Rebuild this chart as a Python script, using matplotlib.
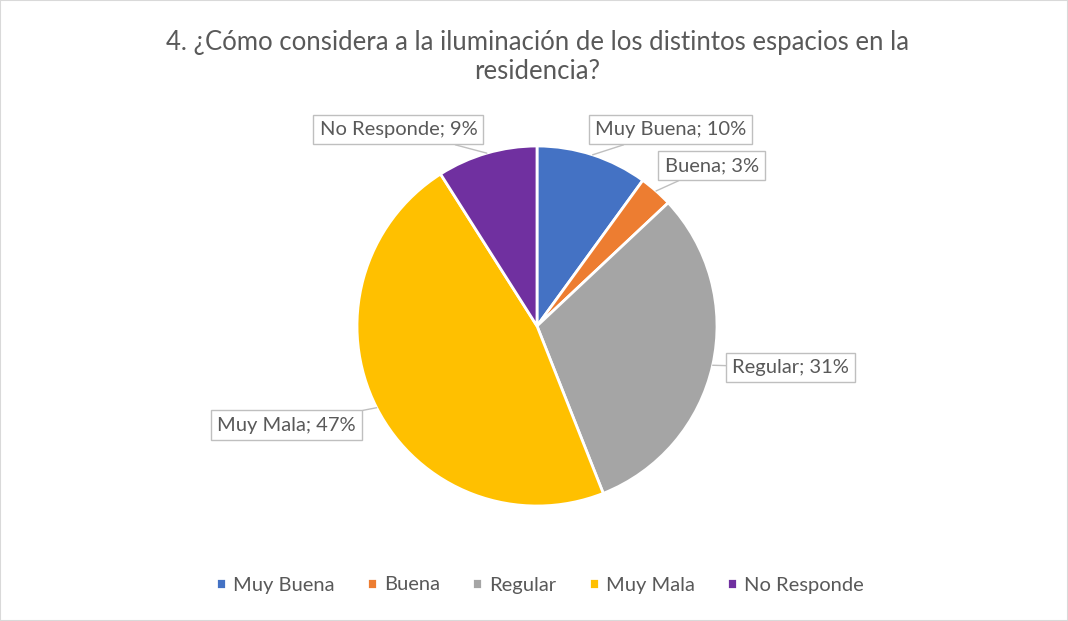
import numpy as np
import matplotlib.pyplot as plt
from matplotlib.patches import Rectangle

plt.rcParams['font.family'] = ['Lato', 'DejaVu Sans']

categories = ['Muy Buena', 'Buena', 'Regular', 'Muy Mala', 'No Responde']
values = [10, 3, 31, 47, 9]
colors = ['#4472C4', '#ED7D31', '#A5A5A5', '#FFC000', '#7030A0']
title = '4. ¿Cómo considera a la iluminación de los distintos espacios en la\nresidencia?'

# label box centres in data units (pie radius = 1)
label_pos = [(0.74, 1.09), (0.97, 0.89), (1.41, -0.23), (-1.39, -0.55), (-0.77, 1.09)]

text_color = '#595959'

fig = plt.figure(figsize=(10.68, 6.21), dpi=100)
fig.patches.append(Rectangle((0, 0), 1, 1, transform=fig.transFigure, fill=False,
                             edgecolor='#D9D9D9', linewidth=1.5))

cx, cy, r = 537, 326, 180
ax = fig.add_axes([(cx - r) / 1068, (621 - cy - r) / 621, 2 * r / 1068, 2 * r / 621])
wedges, _ = ax.pie(values, colors=colors, startangle=90, counterclock=False, radius=1,
                   wedgeprops=dict(edgecolor='white', linewidth=2))
ax.set_xlim(-1, 1)
ax.set_ylim(-1, 1)
ax.set_aspect('equal')
ax.axis('off')

for w, name, val, pos in zip(wedges, categories, values, label_pos):
    ang = np.deg2rad((w.theta1 + w.theta2) / 2)
    xy = (np.cos(ang), np.sin(ang))
    ax.annotate(f'{name}; {val}%', xy=xy, xytext=pos, ha='center', va='center',
                fontsize=14.5, color=text_color, annotation_clip=False,
                bbox=dict(boxstyle='square,pad=0.3', fc='white', ec='#BFBFBF', lw=1),
                arrowprops=dict(arrowstyle='-', color='#BFBFBF', lw=1, shrinkA=0, shrinkB=0))

fig.text(cx / 1068, 1 - 57 / 621, title, ha='center', va='center', fontsize=18.5,
         color=text_color, linespacing=1.2)

fig.legend(wedges, categories, loc='center', bbox_to_anchor=(540 / 1068, 1 - 585 / 621),
           ncol=5, frameon=False, fontsize=14.5, labelcolor=text_color,
           handlelength=0.5, handleheight=0.5, handletextpad=0.35, columnspacing=1.6)

fig.savefig('out.png', dpi=100)
